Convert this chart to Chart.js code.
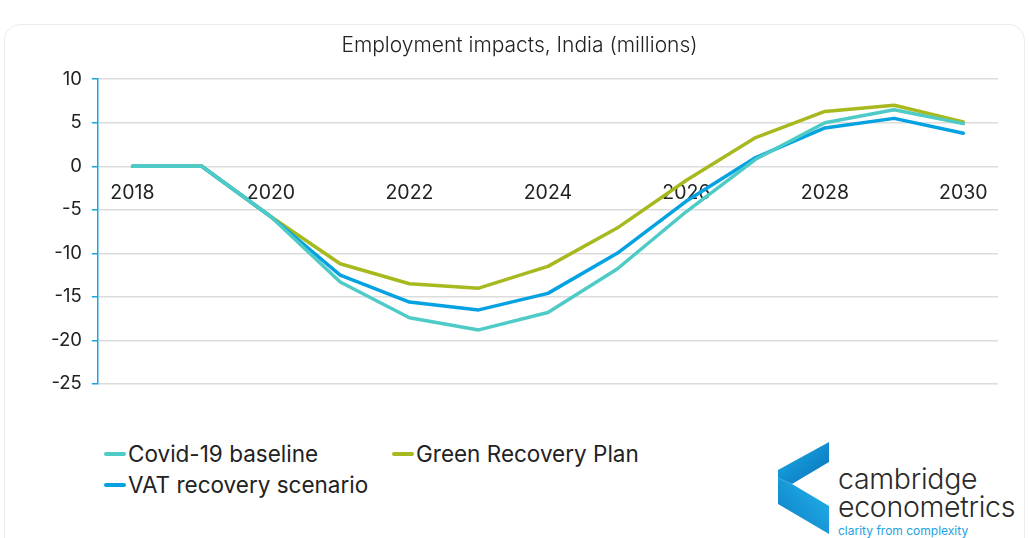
<!DOCTYPE html>
<html>
<head>
<meta charset="utf-8">
<script src="https://cdn.jsdelivr.net/npm/chart.js@4.4.1/dist/chart.umd.min.js"></script>
<style>
  html, body { margin: 0; padding: 0; background: #fff; }
  body { width: 1029px; height: 538px; position: relative; overflow: hidden; font-family: Inter, "Noto Sans", sans-serif; }
  .card { position: absolute; left: 4px; top: 24px; width: 1019px; height: 540px; border: 1px solid #ececec; border-radius: 16px; }
  #wrap { position: absolute; left: 0; top: 0; width: 1029px; height: 405px; }
  #legend { position: absolute; left: 104px; top: 438px; width: 620px; font-size: 22.5px; color: #222; }
  #legend .it { position: absolute; white-space: nowrap; display: flex; align-items: center; }
  #legend .ln { display: inline-block; width: 22px; height: 4px; border-radius: 2px; margin-right: 2px; }
  .logo { position: absolute; left: 776px; top: 440px; width: 253px; height: 98px; }
  .logo .t { position: absolute; left: 62px; font-family: Inter, sans-serif; color: #2a2a2a; font-weight: 300; letter-spacing: -0.3px; }
</style>
</head>
<body>
<div class="card"></div>
<div id="wrap"><canvas id="employment-chart"></canvas></div>
<div id="legend"></div>
<div class="logo">
  <svg width="60" height="98" viewBox="0 0 60 98">
    <defs>
      <linearGradient id="g1" x1="0" y1="0" x2="1" y2="1"><stop offset="0" stop-color="#1ab0ea"/><stop offset="1" stop-color="#0a6fb8"/></linearGradient>
      <linearGradient id="g2" x1="0" y1="1" x2="1" y2="0"><stop offset="0" stop-color="#0d7cc2"/><stop offset="1" stop-color="#23b6ee"/></linearGradient>
    </defs>
    <polygon points="53,2 53,22 16,44 2,38 2,30" fill="url(#g1)"/>
    <polygon points="2,38 16,44 53,66 53,94 2,64" fill="url(#g2)"/>
  </svg>
  <div class="t" style="top:21px;font-size:28.5px;">cambridge</div>
  <div class="t" style="top:49px;font-size:28.5px;">econometrics</div>
  <div class="t" style="top:83px;font-size:12px;color:#1aa3e0;font-weight:400;letter-spacing:0;">clarity from complexity</div>
</div>
<script>
const years = ['2018','2019','2020','2021','2022','2023','2024','2025','2026','2027','2028','2029','2030'];
const covidBaseline = [0, 0, -5.8, -13.3, -17.4, -18.8, -16.8, -11.8, -5.2, 0.8, 5.0, 6.5, 4.9];
const greenRecovery = [0, 0, -5.8, -11.2, -13.5, -14.0, -11.5, -7.1, -1.6, 3.3, 6.3, 7.0, 5.1];
const vatRecovery   = [0, 0, -5.8, -12.5, -15.6, -16.5, -14.6, -10.0, -4.0, 1.0, 4.4, 5.5, 3.8];
const seriesNames = ['Covid-19 baseline', 'Green Recovery Plan', 'VAT recovery scenario'];
const seriesColors = ['#4ecbc6', '#a8b920', '#05a2e2'];
const yTicks = [10, 5, 0, -5, -10, -15, -20, -25];

const fontFam = 'Inter, "Noto Sans", sans-serif';
const mkSet = (i, d) => ({label: seriesNames[i], data: d, borderColor: seriesColors[i], backgroundColor: seriesColors[i],
	borderWidth: 3.5, pointRadius: 0, tension: 0, borderCapStyle: 'round', borderJoinStyle: 'round'});

let config = {
	type: 'line',
	data: {labels: years, datasets: [mkSet(0, covidBaseline), mkSet(2, vatRecovery), mkSet(1, greenRecovery)]},
	options: {
		responsive: true, maintainAspectRatio: false, animation: false,
		layout: {padding: {top: 6, right: 31, bottom: 14, left: 41}},
		plugins: {
			legend: {display: false},
			tooltip: {enabled: false},
			title: {display: true, text: 'Employment impacts, India (millions)', color: '#222',
				font: {family: fontFam, size: 21, weight: 300}, padding: {top: 27, bottom: 21}}
		},
		scales: {
			x: {
				position: {y: 0}, offset: true,
				grid: {display: false, drawTicks: false},
				border: {display: false},
				ticks: {autoSkip: false, maxRotation: 0, padding: 15, color: '#222', font: {family: fontFam, size: 19.5},
					callback: (v, i) => i % 2 === 0 ? years[i] : ''}
			},
			y: {
				min: Math.min(...yTicks), max: Math.max(...yTicks),
				afterBuildTicks: ax => { ax.ticks = yTicks.map(v => ({value: v})); },
				grid: {color: '#dcdcdc', lineWidth: 1.5, tickColor: '#1aa3e0', tickLength: 6},
				border: {color: '#1aa3e0', width: 1.5},
				ticks: {padding: 10, color: '#222', font: {family: fontFam, size: 18.5}}
			}
		}
	}
};
const myChart = new Chart(document.getElementById('employment-chart'), config);

// legend in the original's two-column layout
const legendPos = [[0, 2], [288, 2], [0, 33]];
document.getElementById('legend').innerHTML = seriesNames.map((n, i) =>
	`<div class="it" style="left:${legendPos[i][0]}px;top:${legendPos[i][1]}px"><span class="ln" style="background:${seriesColors[i]}"></span>${n}</div>`).join('');
</script>
</body>
</html>
